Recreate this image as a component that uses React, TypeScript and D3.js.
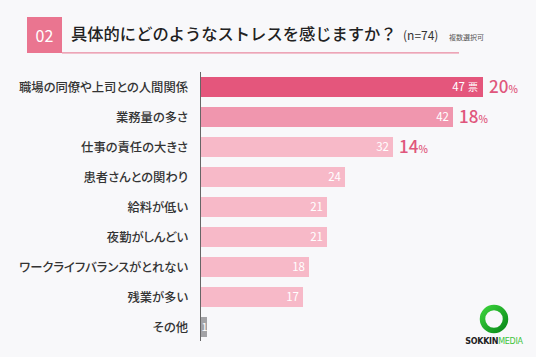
import React from "react";
import * as d3 from "d3";

const categories = [
  "職場の同僚や上司との人間関係",
  "業務量の多さ",
  "仕事の責任の大きさ",
  "患者さんとの関わり",
  "給料が低い",
  "夜勤がしんどい",
  "ワークライフバランスがとれない",
  "残業が多い",
  "その他",
];
const values = [47, 42, 32, 24, 21, 21, 18, 17, 1];
const percents: (number | null)[] = [20, 18, 14, null, null, null, null, null, null];
const barColors = ["#e4567c", "#f096ae", "#f7b9c8", "#f7b9c8", "#f7b9c8", "#f7b9c8", "#f7b9c8", "#f7b9c8", "#a3a3a6"];

const W = 536;
const H = 357;
const FONT = "'Noto Sans CJK JP', 'Noto Sans', sans-serif";

export default function App() {
  const x = d3.scaleLinear().domain([0, 47]).range([201, 483]);
  const y = d3.scaleBand<string>().domain(categories).range([72, 342]).paddingInner(1 / 3).paddingOuter(1 / 6);
  const bh = y.bandwidth();

  return (
    <svg width={W} height={H} style={{ position: "absolute", left: 0, top: 0, display: "block" }}>
      <rect x={0} y={0} width={W} height={H} fill="#f8f8fa" />
      {/* title */}
      <rect x={27} y={17} width={35} height={36} fill="#ea7590" />
      <text x={44.5} y={42} textAnchor="middle" fill="#fff" fontSize={16} fontFamily={FONT}>02</text>
      <line x1={62} x2={459} y1={52.8} y2={52.8} stroke="#ea8aa0" strokeWidth={1.2} />
      <text x={71} y={40} fill="#222" fontSize={16.3} fontWeight={500} fontFamily={FONT}>具体的にどのようなストレスを感じますか？</text>
      <text x={403} y={40} fill="#333" fontSize={12} fontFamily={FONT}>(n=74)</text>
      <text x={449} y={40} fill="#555" fontSize={7} fontFamily={FONT}>複数選択可</text>

      {/* bars */}
      {categories.map((c, i) => {
        const yy = y(c)!;
        const x0 = x(0);
        const x1 = x(values[i]);
        return (
          <g key={c}>
            <rect x={x0} y={yy} width={x1 - x0} height={bh} fill={barColors[i]} />
            <text x={188} y={yy + bh / 2 + 4.5} textAnchor="end" fill="#333" fontSize={12.3} fontWeight={500} fontFamily={FONT} style={{ fontFeatureSettings: "'palt'" }}>{c}</text>
            {i === 0 ? (
              <text x={x1 - 5} y={yy + bh / 2 + 4} textAnchor="end" fill="#fff" fontSize={11.5} fontFamily={FONT}>
                {values[i]}
                <tspan fontSize={10} dx={3}>票</tspan>
              </text>
            ) : values[i] === 1 ? (
              <text x={x0 + (x1 - x0) / 2 + 0.5} y={yy + bh / 2 + 4} textAnchor="middle" fill="#fff" fontSize={11} fontFamily={FONT}>{values[i]}</text>
            ) : (
              <text x={x1 - 4} y={yy + bh / 2 + 4} textAnchor="end" fill="#fff" fontSize={11.5} fontFamily={FONT}>{values[i]}</text>
            )}
            {percents[i] !== null && (
              <text x={x1 + 6} y={yy + bh / 2 + 6} fill="#e0567c" fontSize={17} fontWeight={500} fontFamily={FONT}>
                {percents[i]}
                <tspan fontSize={10}>%</tspan>
              </text>
            )}
          </g>
        );
      })}
      <line x1={200.5} x2={200.5} y1={72} y2={341} stroke="#666" strokeWidth={1} />

      {/* logo */}
      <defs>
        <linearGradient id="lg" x1="0" y1="0" x2="1" y2="1">
          <stop offset="0" stopColor="#3ad13a" />
          <stop offset="1" stopColor="#0a8a1a" />
        </linearGradient>
      </defs>
      <circle cx={494} cy={319} r={11.5} fill="none" stroke="url(#lg)" strokeWidth={5.5} />
      <text x={494} y={344} textAnchor="middle" fontSize={8} fontWeight={700} fontFamily="'DejaVu Sans', sans-serif" letterSpacing={-0.3}>
        <tspan fill="#222">SOKKIN</tspan>
        <tspan fill="#3cc43c" fontWeight={400}>MEDIA</tspan>
      </text>
    </svg>
  );
}
